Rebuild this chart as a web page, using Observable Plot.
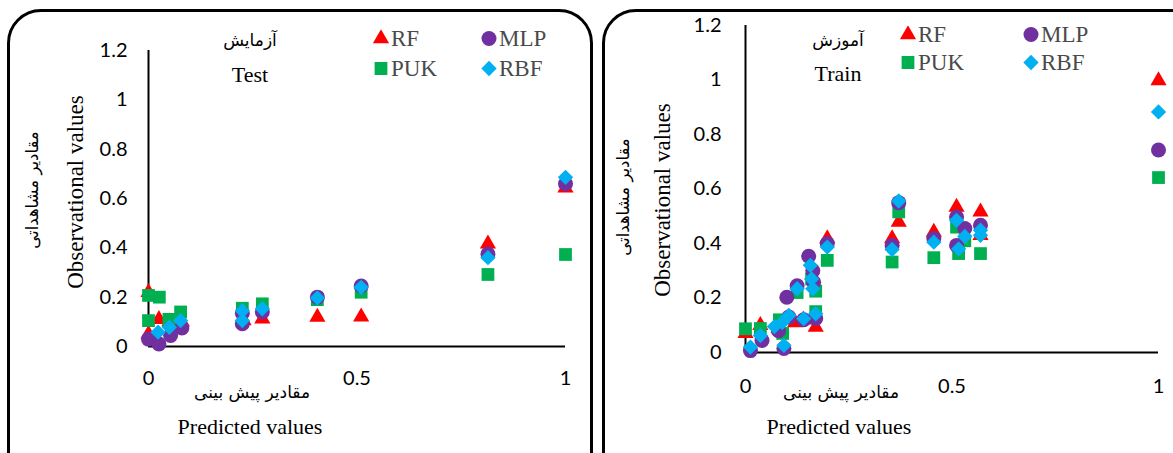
<!DOCTYPE html>
<html><head><meta charset="utf-8">
<script src="https://cdn.jsdelivr.net/npm/d3@7"></script>
<script src="https://cdn.jsdelivr.net/npm/@observablehq/plot@0.6"></script>
<style>
body{margin:0;background:#fff;}
#root{position:relative;width:1173px;height:453px;overflow:hidden;background:#fff;}
.panel{position:absolute;box-sizing:border-box;border:3px solid #000;border-radius:34px;pointer-events:none;}
.plot-wrap{position:absolute;top:0;}
.lbl{position:absolute;transform:translate(-50%,-50%);white-space:nowrap;color:#000;line-height:1;}
.serif{font-family:"Liberation Serif","Times New Roman",serif;}
.fa{font-family:"DejaVu Sans",sans-serif;}
.rot{transform:translate(-50%,-50%) rotate(-90deg);}
.leg{position:absolute;display:flex;align-items:center;font-family:"Liberation Serif",serif;font-size:23px;color:#4a4a4a;transform:translateY(-50%);line-height:1;}
.leg svg{margin-right:1px;}
</style></head>
<body><div id="root"></div>
<script>
// ---- series definitions ----
const seriesNames   = ["RF", "MLP", "PUK", "RBF"];
const seriesColors  = ["#FF0000", "#7030A0", "#00B050", "#00B0F0"];
const seriesSymbols = ["triangle", "circle", "square", "diamond2"];
const drawOrder     = ["RF", "PUK", "MLP", "RBF"];
const xTicks = [0, 0.5, 1];
const yTicks = [0, 0.2, 0.4, 0.6, 0.8, 1, 1.2];

// ---- Test data [predicted, observed] ----
const testRF  = [[0,0.22],[0,0.05],[0.025,0.11],[0.05,0.10],[0.08,0.10],[0.228,0.105],[0.273,0.112],[0.405,0.119],[0.51,0.12],[0.814,0.416],[1.0,0.643]];
const testPUK = [[0,0.207],[0.026,0.20],[0,0.105],[0.049,0.11],[0.077,0.14],[0.225,0.155],[0.273,0.173],[0.405,0.19],[0.51,0.22],[0.814,0.292],[1.0,0.373]];
const testMLP = [[0,0.03],[0.025,0.01],[0.053,0.045],[0.08,0.075],[0.225,0.092],[0.225,0.135],[0.273,0.14],[0.405,0.2],[0.51,0.245],[0.814,0.375],[1.0,0.66]];
const testRBF = [[0.023,0.058],[0.05,0.078],[0.077,0.105],[0.225,0.145],[0.225,0.105],[0.273,0.153],[0.405,0.197],[0.51,0.24],[0.814,0.36],[1.0,0.686]];

// ---- Train data [predicted, observed] ----
const trainRF  = [[0,0.07],[0.036,0.10],[0.08,0.09],[0.12,0.11],[0.14,0.12],[0.17,0.093],[0.198,0.418],[0.355,0.418],[0.371,0.479],[0.456,0.442],[0.511,0.534],[0.569,0.516],[0.569,0.43],[1.0,0.998]];
const trainPUK = [[0,0.087],[0.036,0.088],[0.082,0.12],[0.09,0.07],[0.125,0.22],[0.17,0.15],[0.16,0.27],[0.17,0.225],[0.198,0.338],[0.355,0.332],[0.371,0.516],[0.456,0.348],[0.511,0.46],[0.516,0.363],[0.531,0.41],[0.569,0.363],[1.0,0.642]];
const trainMLP = [[0.012,0.007],[0.04,0.044],[0.08,0.08],[0.093,0.015],[0.10,0.203],[0.105,0.13],[0.125,0.245],[0.141,0.12],[0.153,0.353],[0.163,0.30],[0.165,0.258],[0.17,0.125],[0.198,0.40],[0.355,0.393],[0.371,0.55],[0.456,0.418],[0.511,0.497],[0.511,0.393],[0.531,0.455],[0.569,0.467],[1.0,0.743]];
const trainRBF = [[0.012,0.02],[0.036,0.062],[0.07,0.095],[0.089,0.11],[0.093,0.026],[0.105,0.136],[0.125,0.234],[0.141,0.124],[0.157,0.32],[0.16,0.27],[0.163,0.234],[0.17,0.142],[0.198,0.387],[0.355,0.378],[0.371,0.556],[0.456,0.405],[0.511,0.485],[0.516,0.38],[0.531,0.426],[0.569,0.449],[0.569,0.43],[1.0,0.883]];

const markerR = {RF: 6, MLP: 7.5, PUK: 7.2, RBF: 6.9};

const panels = [
  {
    left: 0, width: 600, marginLeft: 148, marginRight: 35, marginTop: 50, marginBottom: 107,
    xPad: 24, yPad: 21,
    data: {RF: testRF, MLP: testMLP, PUK: testPUK, RBF: testRBF},
    border: {left: 7, top: 9, width: 586, height: 490},
    faTitle: "آزمایش", enTitle: "Test", titleX: 250, faTitleY: 40, enTitleY: 75,
    yLab: {x: 75, y: 192}, yFa: {x: 33, y: 190},
    xFa: {x: 252, y: 392}, xLab: {x: 250, y: 427},
    legend: {x0: 381, x1: 489, y0: 38, y1: 68}
  },
  {
    left: 600, width: 573, marginLeft: 145, marginRight: 15, marginTop: 25, marginBottom: 101,
    xPad: 26, yPad: 24,
    data: {RF: trainRF, MLP: trainMLP, PUK: trainPUK, RBF: trainRBF},
    border: {left: 602, top: 9, width: 620, height: 490},
    faTitle: "آموزش", enTitle: "Train", titleX: 838, faTitleY: 40, enTitleY: 74,
    yLab: {x: 662, y: 200}, yFa: {x: 624, y: 197},
    xFa: {x: 841, y: 392}, xLab: {x: 839, y: 427},
    legend: {x0: 908, x1: 1031, y0: 34, y1: 62}
  }
];

const root = document.getElementById("root");

function addLabel(text, x, y, cls, size, extra) {
  const d = document.createElement("div");
  d.className = "lbl " + cls;
  d.textContent = text;
  d.style.left = x + "px";
  d.style.top = y + "px";
  d.style.fontSize = size + "px";
  if (extra) Object.assign(d.style, extra);
  root.appendChild(d);
}

function symbolPath(name, r) {
  const map = {triangle: d3.symbolTriangle, circle: d3.symbolCircle, square: d3.symbolSquare, diamond2: d3.symbolDiamond2};
  return d3.symbol(map[name], Math.PI * r * r)();
}

function addLegendItem(name, x, y) {
  const i = seriesNames.indexOf(name);
  const d = document.createElement("div");
  d.className = "leg";
  d.style.left = (x - 9) + "px";
  d.style.top = y + "px";
  const svg = `<svg width="18" height="18" viewBox="-9 -9 18 18"><path d="${symbolPath(seriesSymbols[i], markerR[name])}" fill="${seriesColors[i]}"/></svg>`;
  d.innerHTML = svg + `<span>${name}</span>`;
  root.appendChild(d);
}

for (const p of panels) {
  const marks = [
    Plot.ruleX([0], {y1: 0, y2: 1.2, stroke: "#000", strokeWidth: 2}),
    Plot.ruleY([0], {x1: 0, x2: 1, stroke: "#000", strokeWidth: 2.2})
  ];
  for (const name of drawOrder) {
    const i = seriesNames.indexOf(name);
    marks.push(Plot.dot(p.data[name], {
      x: d => d[0], y: d => d[1],
      symbol: seriesSymbols[i], fill: seriesColors[i], r: markerR[name]
    }));
  }
  const chart = Plot.plot({
    width: p.width, height: 453,
    marginLeft: p.marginLeft, marginRight: p.marginRight,
    marginTop: p.marginTop, marginBottom: p.marginBottom,
    x: {domain: [0, 1], ticks: xTicks, tickSize: 0, tickPadding: p.xPad, label: null, tickFormat: d => String(d)},
    y: {domain: [0, 1.2], ticks: yTicks, tickSize: 0, tickPadding: p.yPad, label: null, tickFormat: d => String(d)},
    style: {fontFamily: "Lato, 'Open Sans', sans-serif", fontSize: "20px", background: "transparent", overflow: "visible", color: "#000"},
    marks
  });
  const wrap = document.createElement("div");
  wrap.className = "plot-wrap";
  wrap.style.left = p.left + "px";
  wrap.appendChild(chart);
  root.appendChild(wrap);

  const b = document.createElement("div");
  b.className = "panel";
  Object.assign(b.style, {left: p.border.left + "px", top: p.border.top + "px", width: p.border.width + "px", height: p.border.height + "px"});
  root.appendChild(b);

  addLabel(p.faTitle, p.titleX, p.faTitleY, "fa", 17);
  addLabel(p.enTitle, p.titleX, p.enTitleY, "serif", 22);
  addLabel("Observational values", p.yLab.x, p.yLab.y, "serif rot", 23);
  addLabel("مقادیر مشاهداتی", p.yFa.x, p.yFa.y, "fa rot", 16.5);
  addLabel("مقادیر پیش بینی", p.xFa.x, p.xFa.y, "fa", 17);
  addLabel("Predicted values", p.xLab.x, p.xLab.y, "serif", 22);

  addLegendItem("RF", p.legend.x0, p.legend.y0);
  addLegendItem("MLP", p.legend.x1, p.legend.y0);
  addLegendItem("PUK", p.legend.x0, p.legend.y1);
  addLegendItem("RBF", p.legend.x1, p.legend.y1);
}
</script>
</body></html>
